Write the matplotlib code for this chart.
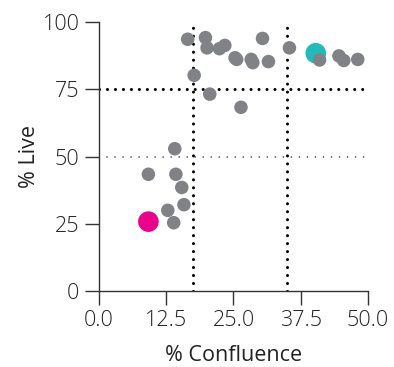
import matplotlib
matplotlib.use("Agg")
import matplotlib.pyplot as plt

plt.rcParams['font.family'] = ['Open Sans', 'DejaVu Sans']
plt.rcParams['font.weight'] = 'light'

# grey samples
confluence = [16.5, 19.8, 20.1, 22.4, 23.4, 25.3, 25.6, 28.3, 28.6, 31.5, 30.4, 35.4,
              41.0, 44.6, 45.5, 48.1, 17.7, 20.6, 26.4, 14.1,
              9.2, 14.3, 15.4, 15.8, 12.8, 13.9]
live = [93.6, 94.2, 90.4, 90.1, 91.3, 86.7, 86.1, 86.1, 84.9, 85.3, 93.9, 90.4,
        85.9, 87.4, 85.7, 86.1, 80.2, 73.2, 68.3, 52.9,
        43.4, 43.4, 38.5, 32.1, 30.0, 25.4]

# highlighted samples
hi_confluence = [40.3, 9.2]
hi_live = [88.4, 25.8]
hi_colors = ['#1fbcbc', '#ec008c']

x_cut = [17.5, 35.0]
y_cut = 75
y_ref = 50

fig = plt.figure(figsize=(3.94, 3.67), dpi=100)
ax = fig.add_axes([0.251, 0.207, 0.683, 0.733])

for xc in x_cut:
    ax.axvline(xc, color='black', lw=2.2, linestyle=(0, (0.01, 2.6)),
               dash_capstyle='round', zorder=1)
ax.axhline(y_cut, color='black', lw=2.2, linestyle=(0, (0.01, 2.6)),
           dash_capstyle='round', zorder=1)
ax.axhline(y_ref, color='#444444', lw=1.2, linestyle=(0, (0.01, 4.8)),
           dash_capstyle='round', zorder=1)

ax.scatter(confluence, live, s=95, color='#808285', edgecolors='none', zorder=3, clip_on=False)
ax.scatter(hi_confluence, hi_live, s=220, color=hi_colors, edgecolors='none', zorder=2, clip_on=False)

ax.set_xlim(0, 50)
ax.set_ylim(0, 100)
ax.set_xticks([0, 12.5, 25, 37.5, 50])
ax.set_xticklabels(['0.0', '12.5', '25.0', '37.5', '50.0'])
ax.set_yticks([0, 25, 50, 75, 100])

for s in ['top', 'right']:
    ax.spines[s].set_visible(False)
for s in ['left', 'bottom']:
    ax.spines[s].set_color('#333333')
    ax.spines[s].set_linewidth(1.0)

ax.tick_params(axis='both', length=10, width=1.0, color='#333333',
               labelsize=15.5, labelcolor='#222222', pad=4)
ax.set_xlabel('% Confluence', fontsize=15.5, color='#222222', labelpad=10)
ax.set_ylabel('% Live', fontsize=15.5, color='#222222', labelpad=2)

fig.savefig('out.png', dpi=100)
